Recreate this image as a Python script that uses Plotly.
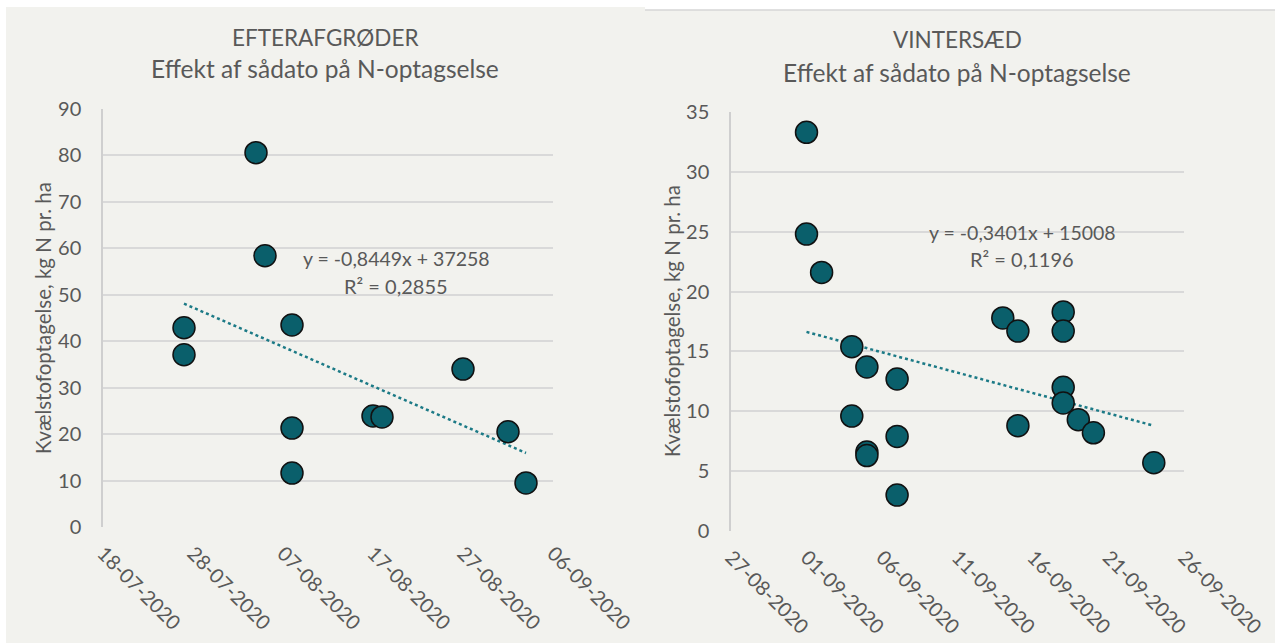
import numpy as np
import pandas as pd
import plotly.graph_objects as go

# ---------------- data ----------------
efter_dates = ["2020-07-27", "2020-07-27", "2020-08-04", "2020-08-05", "2020-08-08",
               "2020-08-08", "2020-08-08", "2020-08-17", "2020-08-18", "2020-08-27",
               "2020-09-01", "2020-09-03"]
efter_values = [42.9, 37.1, 80.6, 58.4, 43.5, 21.3, 11.6, 23.9, 23.7, 34.0, 20.5, 9.5]

vinter_dates = ["2020-09-01", "2020-09-01", "2020-09-02", "2020-09-04", "2020-09-04",
                "2020-09-05", "2020-09-05", "2020-09-05", "2020-09-07", "2020-09-07",
                "2020-09-07", "2020-09-14", "2020-09-15", "2020-09-15", "2020-09-18",
                "2020-09-18", "2020-09-18", "2020-09-18", "2020-09-19", "2020-09-20",
                "2020-09-24"]
vinter_values = [33.3, 24.8, 21.6, 15.4, 9.6, 13.7, 6.6, 6.3, 12.7, 7.9, 3.0,
                 17.8, 16.7, 8.8, 18.3, 16.7, 12.0, 10.7, 9.3, 8.2, 5.7]

titles = ["EFTERAFGRØDER", "VINTERSÆD"]
subtitle = "Effekt af sådato på N-optagselse"
y_title = "Kvælstofoptagelse, kg N pr. ha"
equations = [("y = -0,8449x + 37258", "R² = 0,2855"),
             ("y = -0,3401x + 15008", "R² = 0,1196")]

# ---------------- styling ----------------
W, H = 1279, 643
BG = "#F2F2EE"
TXT = "#595959"
MARK = "#0A5F6B"
TREND = "#1C7A86"
FONT = "Lato"


def px(x):
    return x / W


def py(y):
    return 1 - y / H


def trend(dates, values):
    d = pd.to_datetime(dates)
    days = (d - pd.Timestamp("1899-12-30")).days.values.astype(float)
    k, m = np.polyfit(days, np.array(values, dtype=float), 1)
    xs = np.array([days.min(), days.max()])
    return [pd.Timestamp("1899-12-30") + pd.Timedelta(days=v) for v in xs], k * xs + m


fig = go.Figure()

for i, (dates, vals) in enumerate([(efter_dates, efter_values), (vinter_dates, vinter_values)]):
    xa = "x" if i == 0 else "x2"
    ya = "y" if i == 0 else "y2"
    tx, ty = trend(dates, vals)
    fig.add_trace(go.Scatter(x=tx, y=ty, mode="lines", xaxis=xa, yaxis=ya,
                             line=dict(color=TREND, width=2.5, dash="dot"),
                             showlegend=False, hoverinfo="skip"))
    fig.add_trace(go.Scatter(x=pd.to_datetime(dates), y=vals, mode="markers",
                             xaxis=xa, yaxis=ya, showlegend=False,
                             marker=dict(size=22, color=MARK,
                                         line=dict(color="#111111", width=1.5))))

axis_common = dict(zeroline=False, ticks="", automargin=False,
                   tickfont=dict(family=FONT, size=20, color=TXT))
yaxis_common = dict(showgrid=True, gridcolor="#D9D9D9", gridwidth=1.5,
                    showline=True, linecolor="#CFCFCF", linewidth=1.5,
                    ticklabelstandoff=16, **axis_common)
xaxis_common = dict(type="date", tickformat="%d-%m-%Y", tickangle=45,
                    showgrid=False, showline=False, ticklabelstandoff=10,
                    **axis_common)

fig.update_layout(
    width=W, height=H,
    margin=dict(l=0, r=0, t=0, b=0, pad=0, autoexpand=False),
    paper_bgcolor="white",
    plot_bgcolor="rgba(0,0,0,0)",
    showlegend=False,
    font=dict(family=FONT, color=TXT),
    xaxis=dict(domain=[px(103), px(553)], anchor="y",
               range=["2020-07-18", "2020-09-06"], tick0="2020-07-18",
               dtick=10 * 86400000, **xaxis_common),
    yaxis=dict(domain=[py(527), py(109)], anchor="x", range=[0, 90], dtick=10,
               **yaxis_common),
    xaxis2=dict(domain=[px(731), px(1184)], anchor="y2",
                range=["2020-08-27", "2020-09-26"], tick0="2020-08-27",
                dtick=5 * 86400000, **xaxis_common),
    yaxis2=dict(domain=[py(531), py(112)], anchor="x2", range=[0, 35], dtick=5,
                **yaxis_common),
)

# panels
fig.add_shape(type="rect", xref="paper", yref="paper", x0=px(6), x1=px(645),
              y0=0, y1=py(7), fillcolor=BG, line=dict(width=0), layer="below")
fig.add_shape(type="rect", xref="paper", yref="paper", x0=px(645), x1=px(1275),
              y0=0, y1=py(10), fillcolor=BG, line=dict(width=0), layer="below")
fig.add_shape(type="line", xref="paper", yref="paper", x0=px(645), x1=px(1275),
              y0=py(10), y1=py(10), line=dict(color="#D6D6D6", width=1.5), layer="below")

ann = []
title_pos = [(325, 37, 68), (957, 40, 72)]
for (cx, y1, y2), t in zip(title_pos, titles):
    ann.append(dict(text=t, x=px(cx), y=py(y1), xref="paper", yref="paper",
                    showarrow=False, xanchor="center", yanchor="middle",
                    font=dict(family=FONT, size=22.5, color=TXT)))
    ann.append(dict(text=subtitle, x=px(cx), y=py(y2), xref="paper", yref="paper",
                    showarrow=False, xanchor="center", yanchor="middle",
                    font=dict(family=FONT, size=24.5, color=TXT)))

for cx, cy in [(43, 318), (672, 321)]:
    ann.append(dict(text=y_title, x=px(cx), y=py(cy), xref="paper", yref="paper",
                    showarrow=False, textangle=-90, xanchor="center", yanchor="middle",
                    font=dict(family=FONT, size=20.5, color=TXT)))

eq_pos = [(396, 259, 286), (1022, 232, 259)]
for (cx, y1, y2), (e, r) in zip(eq_pos, equations):
    ann.append(dict(text=e, x=px(cx), y=py(y1), xref="paper", yref="paper",
                    showarrow=False, xanchor="center", yanchor="middle",
                    font=dict(family=FONT, size=19.5, color=TXT)))
    ann.append(dict(text=r, x=px(cx), y=py(y2), xref="paper", yref="paper",
                    showarrow=False, xanchor="center", yanchor="middle",
                    font=dict(family=FONT, size=20, color=TXT)))

fig.update_layout(annotations=ann)

fig.write_html("out.html", config={"displayModeBar": False},
               post_script="document.body.style.margin='0';"
                           "document.body.style.overflow='hidden';")
